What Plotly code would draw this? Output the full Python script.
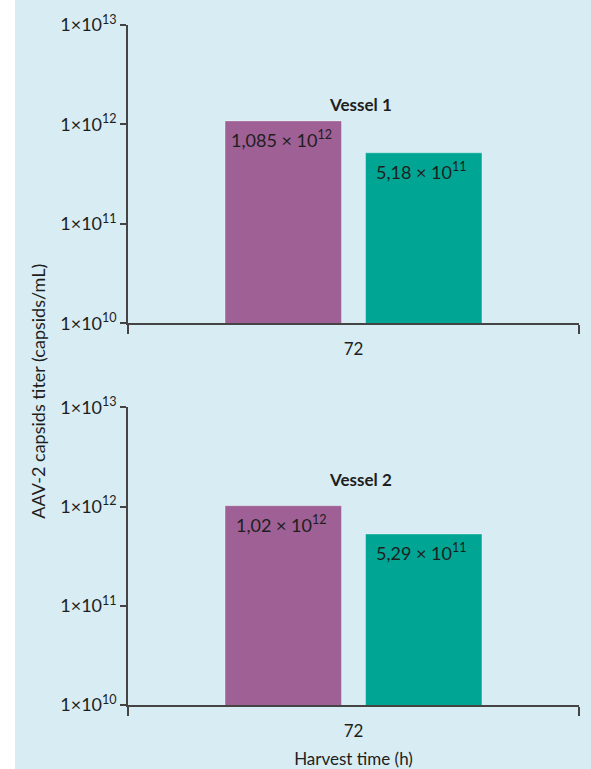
import math
import plotly.graph_objects as go
from plotly.subplots import make_subplots

categories = ["72"]
vessels = ["Vessel 1", "Vessel 2"]
series_a = [1.085e12, 1.02e12]      # purple bars
series_b = [5.18e11, 5.29e11]       # teal bars
labels_a = ["1,085 × 10<sup>12</sup>", "1,02 × 10<sup>12</sup>"]
labels_b = ["5,18 × 10<sup>11</sup>", "5,29 × 10<sup>11</sup>"]
ytick_vals = [1e10, 1e11, 1e12, 1e13]
ytick_text = ["1×10<sup>10</sup>", "1×10<sup>11</sup>", "1×10<sup>12</sup>", "1×10<sup>13</sup>"]

W, H = 591, 769
ML, MR, MT, MB = 128, 12, 25, 64
PW, PH = W - ML - MR, H - MT - MB
BARGAP, BARGROUPGAP = 0.377, 0.171

BG = "#d8ecf3"
PURPLE = "#9e6095"
TEAL = "#00a693"
AXC = "#444444"
TXT = "#1e1e1e"
FONT = "Lato, 'Open Sans', sans-serif"

def dom(ytop, ybot):
    return [(H - MB - ybot) / PH, (H - MB - ytop) / PH]

fig = make_subplots(rows=2, cols=1, shared_xaxes=False)
fig.update_layout(
    yaxis=dict(domain=dom(25, 323.3)),
    yaxis2=dict(domain=dom(407.3, 705)),
)

# horizontal offset of each bar centre within the group (pixels), from bargap
slot = (1 - BARGAP) * PW / 2
offsets = [-slot / 2, slot / 2]

for i in range(2):
    r = i + 1
    sfx = "" if r == 1 else str(r)
    for vals, labs, col, off in ((series_a, labels_a, PURPLE, offsets[0]),
                                 (series_b, labels_b, TEAL, offsets[1])):
        fig.add_trace(go.Bar(x=categories, y=[vals[i]],
                             marker=dict(color=col, line=dict(color="rgba(255,255,255,0.35)", width=1)),
                             showlegend=False, hoverinfo="y"), row=r, col=1)
        fig.add_annotation(text=labs[i], xref="x" + sfx, yref="y" + sfx, x=0,
                           y=math.log10(vals[i]), xshift=off - 2, yshift=-18,
                           xanchor="center", yanchor="middle", showarrow=False,
                           font=dict(size=18, color=TXT, family=FONT))
    fig.update_yaxes(type="log", range=[10, 13], tickvals=ytick_vals, ticktext=ytick_text,
                     ticks="outside", ticklen=6, tickwidth=1.5, tickcolor=AXC, automargin=False,
                     showline=True, linecolor=AXC, linewidth=1.5, showgrid=False, zeroline=False,
                     tickfont=dict(size=18, color=TXT, family=FONT), row=r, col=1)
    fig.update_xaxes(type="category", range=[-0.5, len(categories) - 0.5], tickson="boundaries",
                     ticks="outside", ticklen=9, tickwidth=1.5, tickangle=0, automargin=False,
                     tickcolor=AXC, showline=True, linecolor=AXC, linewidth=1.5, showgrid=False,
                     ticklabelstandoff=10,
                     tickfont=dict(size=17, color=TXT, family=FONT), row=r, col=1)
    fig.add_annotation(text="<b>" + vessels[i] + "</b>", xref="x" + sfx + " domain",
                       yref="y" + sfx + " domain", x=0.515, y=[0.732, 0.756][i],
                       xanchor="center", yanchor="middle",
                       showarrow=False, font=dict(size=17, color=TXT, family=FONT))

fig.update_xaxes(title=dict(text="Harvest time (h)", standoff=22, font=dict(size=17, color=TXT, family=FONT)), row=2, col=1)

fig.add_annotation(text="AAV-2 capsids titer (capsids/mL)", textangle=-90, xref="paper", yref="paper",
                   x=(38 - ML) / PW, y=(H - MB - 391.7) / PH, xanchor="center", yanchor="middle",
                   showarrow=False, font=dict(size=18, color=TXT, family=FONT))

fig.add_shape(type="rect", xref="paper", yref="paper", x0=-ML / PW - 0.01, x1=(15 - ML) / PW,
              y0=-MB / PH - 0.05, y1=1 + MT / PH + 0.05, fillcolor="white", line=dict(width=0), layer="below")

fig.update_layout(
    width=W, height=H, margin=dict(l=ML, r=MR, t=MT, b=MB, autoexpand=False),
    paper_bgcolor=BG, plot_bgcolor=BG,
    barmode="group", bargap=BARGAP, bargroupgap=BARGROUPGAP,
    font=dict(family=FONT, color=TXT),
    showlegend=False,
)

fig.write_html("out.html")
